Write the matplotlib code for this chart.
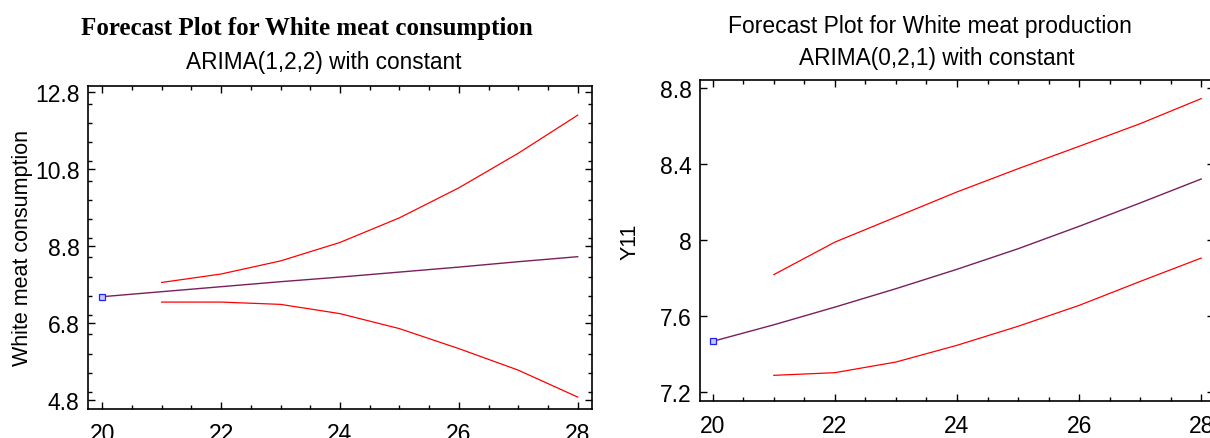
import matplotlib
matplotlib.use("Agg")
import matplotlib.pyplot as plt
from matplotlib.ticker import MultipleLocator, FixedLocator

plt.rcParams['font.family'] = ['Liberation Sans', 'DejaVu Sans']

# periods
periods = [20, 21, 22, 23, 24, 25, 26, 27, 28]
bound_periods = [21, 22, 23, 24, 25, 26, 27, 28]

# White meat consumption, ARIMA(1,2,2)
cons_forecast = [7.48, 7.61, 7.74, 7.87, 7.99, 8.12, 8.25, 8.39, 8.52]
cons_upper = [7.85, 8.07, 8.41, 8.89, 9.53, 10.31, 11.21, 12.2]
cons_lower = [7.34, 7.34, 7.28, 7.04, 6.65, 6.13, 5.57, 4.87]
cons_yticks = [4.8, 6.8, 8.8, 10.8, 12.8]

# White meat production, ARIMA(0,2,1)
prod_forecast = [7.467, 7.554, 7.647, 7.744, 7.846, 7.954, 8.072, 8.195, 8.321]
prod_upper = [7.818, 7.989, 8.121, 8.253, 8.375, 8.493, 8.612, 8.744]
prod_lower = [7.288, 7.302, 7.358, 7.446, 7.546, 7.656, 7.782, 7.905]
prod_yticks = [7.2, 7.6, 8.0, 8.4, 8.8]
prod_ylabels = ["7.2", "7.6", "8", "8.4", "8.8"]

fig = plt.figure(figsize=(12.1, 4.39), dpi=100)
fig.patch.set_facecolor('white')

ax1 = fig.add_axes([0.0727, 0.0661, 0.4165, 0.7358])
ax2 = fig.add_axes([0.5785, 0.0843, 0.4248, 0.7312])

line_col = '#7a1f5c'
band_col = '#ff0000'


def draw(ax, fc, up, lo):
    ax.plot(bound_periods, up, color=band_col, lw=0.9)
    ax.plot(bound_periods, lo, color=band_col, lw=0.9)
    ax.plot(periods, fc, color=line_col, lw=1.0)
    ax.plot(periods[:1], fc[:1], ls='none', marker='s', ms=4,
            mfc='#c8c8ff', mec='#2020ff', mew=0.9)
    ax.xaxis.set_major_locator(MultipleLocator(2))
    ax.xaxis.set_minor_locator(MultipleLocator(0.5))
    ax.tick_params(which='both', direction='in', top=True, right=True,
                   labelsize=16.5, width=1.0)
    ax.tick_params(which='major', length=5)
    ax.tick_params(which='minor', length=3)
    ax.tick_params(axis='x', which='major', pad=9.5)
    ax.tick_params(axis='y', which='major', pad=6)
    for s in ax.spines.values():
        s.set_linewidth(1.2)


draw(ax1, cons_forecast, cons_upper, cons_lower)
ax1.set_xlim(19.76, 28.24)
ax1.set_ylim(4.56, 12.96)
ax1.yaxis.set_major_locator(FixedLocator(cons_yticks))
ax1.yaxis.set_minor_locator(MultipleLocator(0.5))
ax1.set_yticklabels([str(v) for v in cons_yticks])
ax1.set_ylabel("White meat consumption", fontsize=15.5)
ax1.yaxis.set_label_coords(-0.109, 0.5)

draw(ax2, prod_forecast, prod_upper, prod_lower)
ax2.set_xlim(19.79, 28.21)
ax2.set_ylim(7.153, 8.842)
ax2.yaxis.set_major_locator(FixedLocator(prod_yticks))
ax2.yaxis.set_minor_locator(FixedLocator([]))
ax2.set_yticklabels(prod_ylabels)
ax2.set_ylabel("Y11", fontsize=15.5)
ax2.yaxis.set_label_coords(-0.115, 0.5)

# titles
fig.text(307 / 1210, 1 - 28 / 439, "Forecast Plot for White meat consumption",
         family=['Liberation Serif', 'DejaVu Serif'], weight='bold',
         fontsize=18, ha='center', va='center')
fig.text(324 / 1210, 1 - 62 / 439, "ARIMA(1,2,2) with constant",
         fontsize=16.3, ha='center', va='center')
fig.text(930 / 1210, 1 - 27 / 439, "Forecast Plot for White meat production",
         fontsize=16.5, ha='center', va='center')
fig.text(937 / 1210, 1 - 59 / 439, "ARIMA(0,2,1) with constant",
         fontsize=16.3, ha='center', va='center')

fig.savefig("out.png", dpi=100)
